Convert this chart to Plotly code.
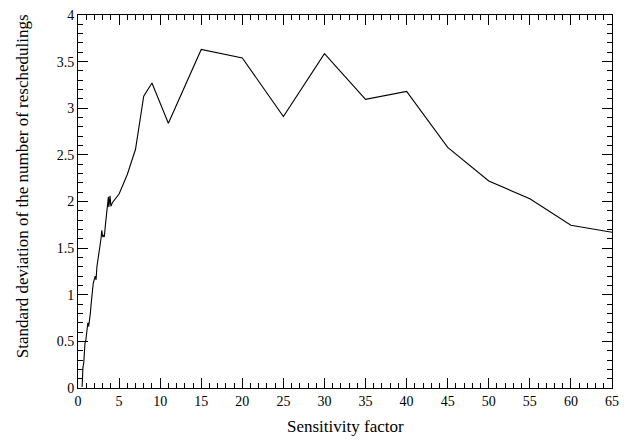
import plotly.graph_objects as go

sensitivity = [0.5, 0.55, 0.6, 0.7, 0.75, 0.85, 0.95, 1.05, 1.15, 1.2, 1.3, 1.4, 1.5, 1.6, 1.75, 1.85, 2.0,
               2.1, 2.2, 2.3, 2.5, 2.7, 2.8, 2.9, 3.0, 3.1, 3.2, 3.35, 3.5, 3.6, 3.7, 3.75, 3.8, 3.9, 4.0,
               4.2, 5, 6, 7, 8, 9, 11, 15, 20, 25, 30, 35, 40, 45, 50, 55, 60, 65]
std_resched = [0.01, 0.19, 0.22, 0.27, 0.4, 0.48, 0.51, 0.6, 0.69, 0.7, 0.66, 0.72, 0.8, 0.9, 1.07, 1.12, 1.17,
               1.2, 1.16, 1.3, 1.42, 1.52, 1.6, 1.69, 1.62, 1.64, 1.62, 1.76, 1.88, 1.98, 2.05, 1.94, 2.03, 2.06, 1.95,
               1.99, 2.08, 2.29, 2.56, 3.13, 3.27, 2.84, 3.63, 3.54, 2.91, 3.585, 3.095, 3.18, 2.58, 2.22, 2.03, 1.745, 1.67]

x_title = "Sensitivity factor"
y_title = "Standard deviation of the number of reschedulings"

fig = go.Figure()
fig.add_trace(go.Scatter(x=sensitivity, y=std_resched, mode="lines",
                         line=dict(color="black", width=1.1), showlegend=False))

axis_common = dict(showgrid=False, zeroline=False, showline=True, linecolor="black", linewidth=1,
                   mirror="allticks", ticks="inside", ticklen=10, tickwidth=1, tickcolor="black",
                   automargin=False,
                   tickfont=dict(family="Liberation Serif", size=14, color="black"))

fig.update_xaxes(range=[0, 65], dtick=5, tick0=0,
                 minor=dict(dtick=1, ticks="inside", ticklen=5, tickcolor="black", tickwidth=1),
                 **axis_common)
fig.update_yaxes(range=[0, 4], dtick=0.5, tick0=0,
                 minor=dict(dtick=0.1, ticks="inside", ticklen=5, tickcolor="black", tickwidth=1),
                 **axis_common)

title_font = dict(family="Liberation Serif", size=17, color="black")
fig.add_annotation(text=x_title, xref="paper", yref="paper", x=0.5, y=-0.103,
                   xanchor="center", yanchor="middle", showarrow=False, font=title_font)
fig.add_annotation(text=y_title, xref="paper", yref="paper", x=-0.105, y=0.541,
                   xanchor="center", yanchor="middle", showarrow=False, textangle=-90, font=title_font)

fig.update_layout(width=635, height=442, margin=dict(l=78, r=23, t=15, b=54),
                  plot_bgcolor="white", paper_bgcolor="white",
                  font=dict(family="Liberation Serif", color="black"))

fig.write_html("out.html")
